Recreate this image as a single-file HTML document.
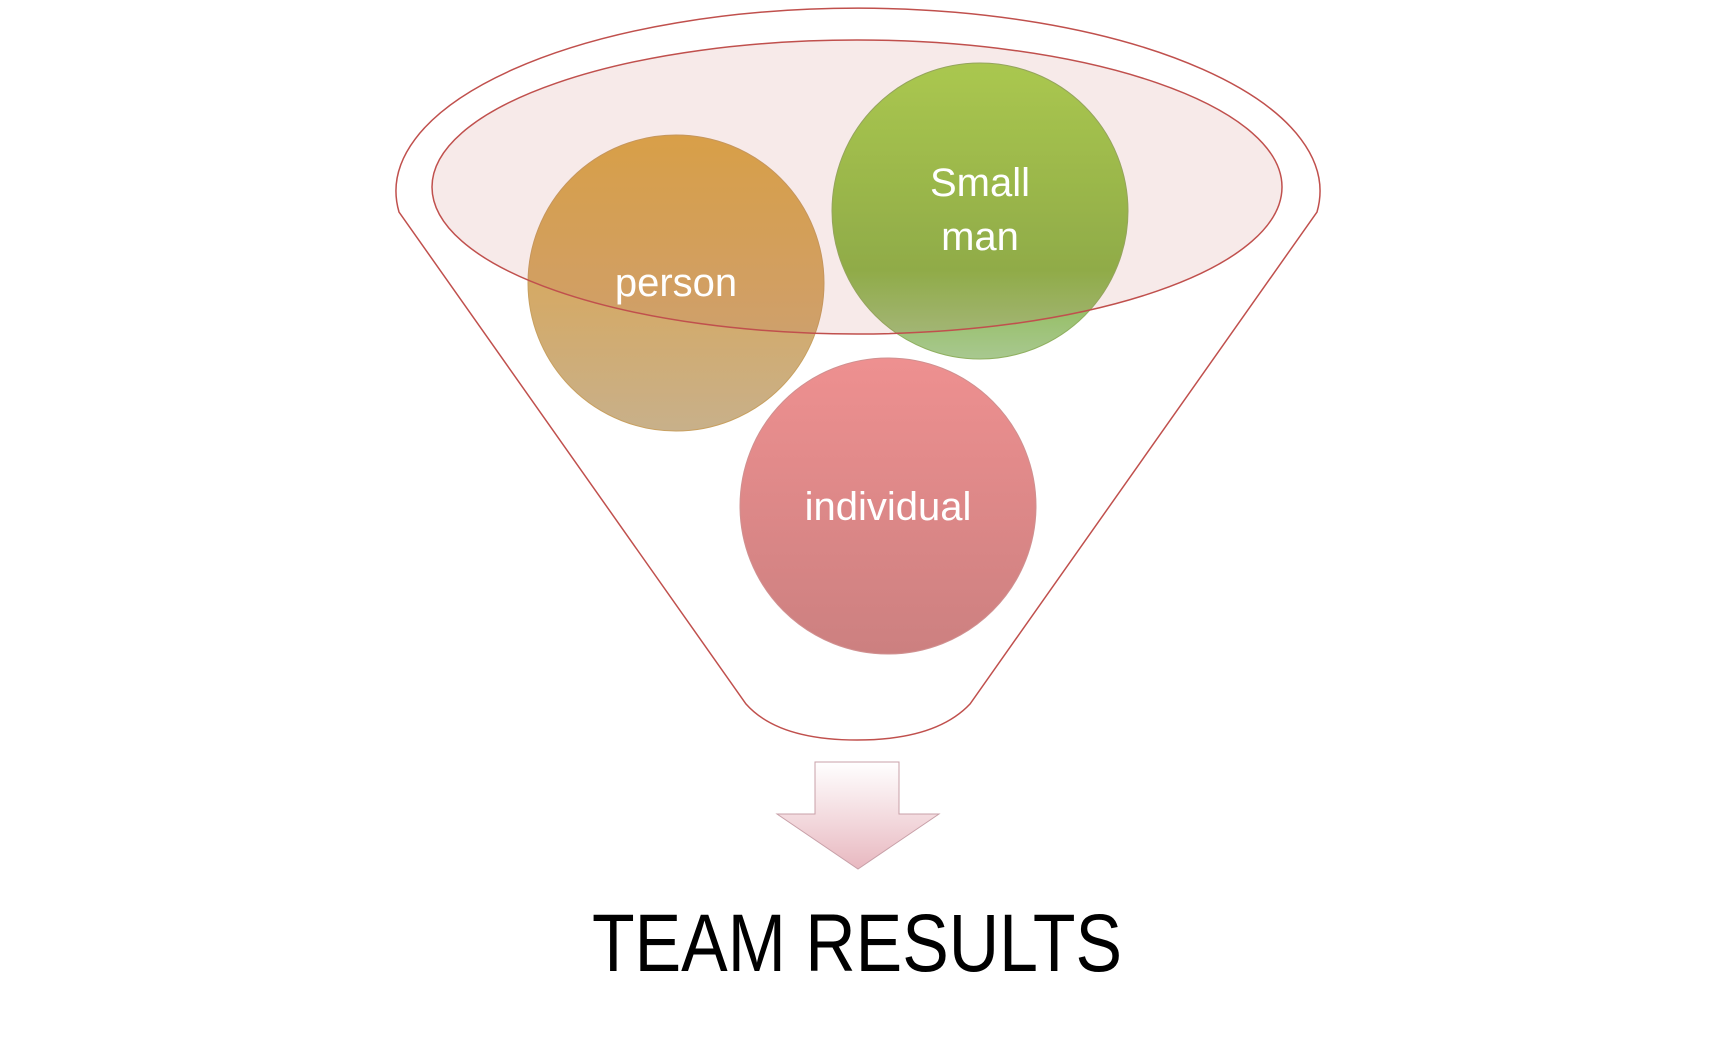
<!DOCTYPE html>
<html><head><meta charset="utf-8"><style>
html,body{margin:0;padding:0;background:#fff;}
svg{display:block;}
</style></head><body>
<svg width="1713" height="1050" viewBox="0 0 1713 1050" xmlns="http://www.w3.org/2000/svg">
<defs>
<linearGradient id="gP" x1="0" y1="0" x2="0" y2="1"><stop offset="0" stop-color="#dcaa48"/><stop offset="0.55" stop-color="#d4aa68"/><stop offset="1" stop-color="#c8b08a"/></linearGradient>
<linearGradient id="gS" x1="0" y1="0" x2="0" y2="1"><stop offset="0" stop-color="#a8d850"/><stop offset="0.7" stop-color="#8ab848"/><stop offset="1" stop-color="#a8c890"/></linearGradient>
<linearGradient id="gI" x1="0" y1="0" x2="0" y2="1"><stop offset="0" stop-color="#ee9090"/><stop offset="1" stop-color="#cc8080"/></linearGradient>
<linearGradient id="gA" x1="0" y1="0" x2="0" y2="1"><stop offset="0" stop-color="#fff"/><stop offset="1" stop-color="#e8b8c0"/></linearGradient>
</defs>
<g transform="translate(-4,-4)">
<path d="M403,216 A462,183 0 1 1 1321,216 L974,708 Q940,744 861,744 Q782,744 750,708 Z" fill="none" stroke="#c0504d" stroke-width="1.5"/>
<circle cx="680" cy="287" r="148" fill="url(#gP)" stroke="#c8a060" stroke-width="1"/>
<circle cx="984" cy="215" r="148" fill="url(#gS)" stroke="#90b060" stroke-width="1"/>
<circle cx="892" cy="510" r="148" fill="url(#gI)" stroke="#d09090" stroke-width="1"/>
<ellipse cx="861" cy="191" rx="425" ry="147" fill="rgba(192,80,77,0.12)" stroke="#c0504d" stroke-width="1.5"/>
<g font-family="'Liberation Sans',sans-serif" font-size="40" fill="#fff" text-anchor="middle">
<text x="680" y="300">person</text>
<text x="984" y="200">Small</text>
<text x="984" y="254">man</text>
<text x="892" y="524">individual</text>
</g>
<path d="M819,766 L903,766 L903,818 L943,818 L862,873 L781,818 L819,818 Z" fill="url(#gA)" stroke="#c8a0a8" stroke-width="1"/>
<text x="861" y="975" font-family="'Liberation Sans',sans-serif" font-size="82" fill="#000" text-anchor="middle" textLength="530" lengthAdjust="spacingAndGlyphs">TEAM RESULTS</text>
</g>
</svg>
</body></html>
